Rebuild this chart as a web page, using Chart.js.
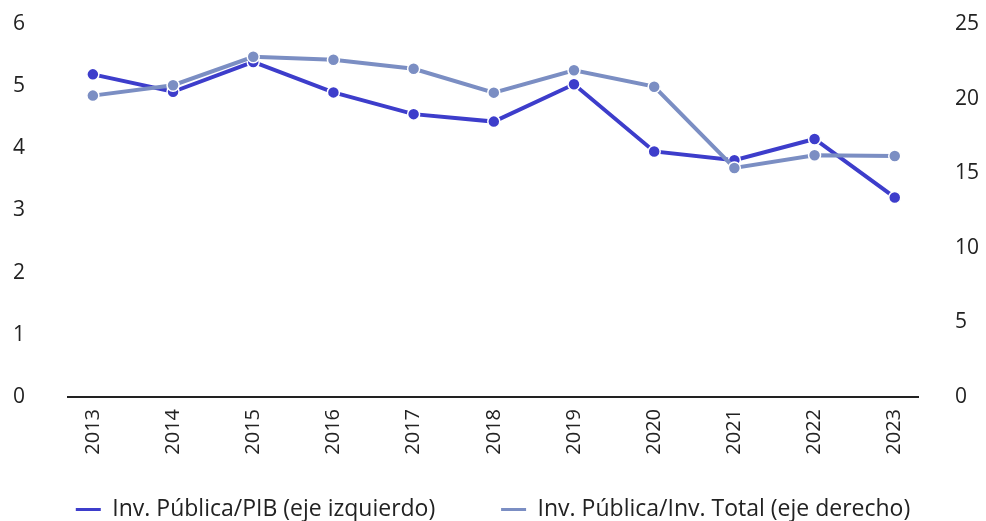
<!DOCTYPE html>
<html>
<head>
<meta charset="utf-8">
<title>Inversión pública</title>
<script src="https://cdn.jsdelivr.net/npm/chart.js@4.4.1/dist/chart.umd.min.js"></script>
<style>
    html, body { margin: 0; padding: 0; background: #fff; }
    #wrap { width: 986px; height: 521px; }
</style>
</head>
<body>
<div id="wrap"><canvas id="line-chart" width="986" height="521"></canvas></div>
<script>
"use strict";

var years = [2013, 2014, 2015, 2016, 2017, 2018, 2019, 2020, 2021, 2022, 2023];
var pibValues = [5.19, 4.91, 5.39, 4.90, 4.55, 4.43, 5.03, 3.95, 3.81, 4.15, 3.21];
var totalValues = [20.2, 20.9, 22.8, 22.6, 22.0, 20.4, 21.9, 20.8, 15.35, 16.2, 16.15];
var pibLabel = "Inv. Pública/PIB (eje izquierdo)";
var totalLabel = "Inv. Pública/Inv. Total (eje derecho)";

var darkBlue = "#3d3dcb";
var lightBlue = "#7b8ec3";
var textColor = "#222";
var fontFamily = "'Open Sans', sans-serif";
var legendFont = 23;
var legendPad = 30;

function toPoints(values) {
    return values.map(function (v, i) {
        return { x: years[i], y: v };
    });
}

// y axes: fixed width, and keep the tick padding out of the top/bottom layout padding
function fixYAxis(scale) {
    scale.width = 68;
    scale.paddingTop = 12;
    scale.paddingBottom = 12;
}

//start line chart
var lineChartData = {
    datasets: [{
        label: pibLabel,
        data: toPoints(pibValues),
        yAxisID: "yLeft",
        borderColor: darkBlue,
        backgroundColor: darkBlue,
        pointBackgroundColor: darkBlue,
        pointBorderColor: "#fff",
        pointBorderWidth: 1.5,
        pointRadius: 6,
        borderWidth: 4,
        order: 2
    }, {
        label: totalLabel,
        data: toPoints(totalValues),
        yAxisID: "yRight",
        borderColor: lightBlue,
        backgroundColor: lightBlue,
        pointBackgroundColor: lightBlue,
        pointBorderColor: "#fff",
        pointBorderWidth: 1.5,
        pointRadius: 6,
        borderWidth: 4,
        order: 1
    }]
};

var myLine = new Chart(document.getElementById("line-chart"), {
    type: "line",
    data: lineChartData,
    options: {
        responsive: false,
        animation: false,
        layout: { padding: { top: 24, left: 0, right: 0, bottom: 0 } },
        plugins: {
            tooltip: { enabled: false },
            legend: {
                position: "bottom",
                maxHeight: legendPad + legendFont,
                labels: {
                    usePointStyle: true,
                    pointStyle: "line",
                    pointStyleWidth: 25,
                    boxHeight: legendFont,
                    padding: legendPad,
                    color: textColor,
                    font: { family: fontFamily, size: legendFont },
                    sort: function (a, b) { return a.datasetIndex - b.datasetIndex; },
                    generateLabels: function (chart) {
                        var items = Chart.defaults.plugins.legend.labels.generateLabels(chart);
                        items.forEach(function (it) {
                            var ds = chart.data.datasets[it.datasetIndex];
                            it.strokeStyle = ds.borderColor;
                            it.lineWidth = 3;
                            // wider gap after the first item
                            if (it.datasetIndex === 0) {
                                it.text = it.text + "      ";
                            }
                        });
                        return items;
                    }
                }
            }
        },
        scales: {
            x: {
                type: "linear",
                min: 2012.69,
                max: 2023.29,
                grid: { display: false, drawTicks: false },
                border: { display: true, color: textColor, width: 2 },
                afterBuildTicks: function (axis) {
                    axis.ticks = years.map(function (y) { return { value: y }; });
                },
                afterFit: function (scale) { scale.height = 71; },
                ticks: {
                    minRotation: 90,
                    maxRotation: 90,
                    padding: 12,
                    color: textColor,
                    font: { family: fontFamily, size: 20 },
                    callback: function (v) { return String(v); }
                }
            },
            yLeft: {
                position: "left",
                min: 0,
                max: 6,
                grid: { display: false, drawTicks: false },
                border: { display: false },
                afterFit: fixYAxis,
                ticks: {
                    stepSize: 1,
                    padding: 43,
                    color: textColor,
                    font: { family: fontFamily, size: 21 }
                }
            },
            yRight: {
                position: "right",
                min: 0,
                max: 25,
                grid: { display: false, drawTicks: false },
                border: { display: false },
                afterFit: fixYAxis,
                ticks: {
                    stepSize: 5,
                    padding: 37,
                    color: textColor,
                    font: { family: fontFamily, size: 21 }
                }
            }
        }
    }
});
//end line chart
</script>
</body>
</html>
